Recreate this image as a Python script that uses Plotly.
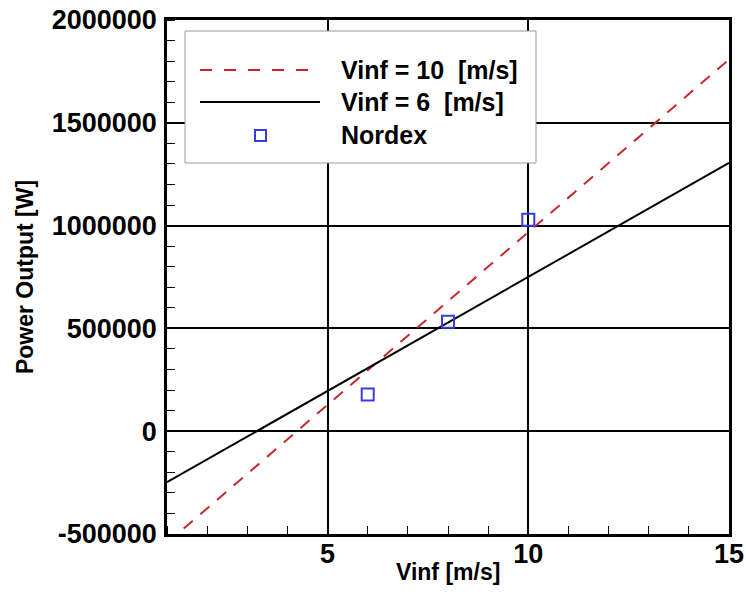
import plotly.graph_objects as go

# ---- data ----
line_x = [1, 15]
vinf10_y = [-543600, 1808000]
vinf6_y = [-248000, 1305000]
nordex_x = [6, 8, 10]
nordex_y = [178000, 532000, 1029000]

x_tick_vals = [5, 10, 15]
x_tick_text = ["5", "10", "15"]
y_tick_vals = [-500000, 0, 500000, 1000000, 1500000, 2000000]
y_tick_text = ["-500000", "0", "500000", "1000000", "1500000", "2000000"]

legend_labels = ["Vinf = 10  [m/s]", "Vinf = 6  [m/s]", "Nordex"]
x_title = "Vinf [m/s]"
y_title = "Power Output [W]"

RED = "#c8282d"
BLUE = "#3a3ae6"
FONT = "Liberation Sans, Arial, Helvetica, sans-serif"

W, H = 746, 594
L, R, T, B = 167, 17, 20, 60
PW, PH = W - L - R, H - T - B


def px(xp):
    return (xp - L) / PW


def py(yp):
    return (H - B - yp) / PH


fig = go.Figure()
fig.add_trace(go.Scatter(x=line_x, y=vinf10_y, mode="lines", name=legend_labels[0],
                         line=dict(color=RED, width=2, dash="12px,10px")))
fig.add_trace(go.Scatter(x=line_x, y=vinf6_y, mode="lines", name=legend_labels[1],
                         line=dict(color="black", width=2)))
fig.add_trace(go.Scatter(x=nordex_x, y=nordex_y, mode="markers", name=legend_labels[2],
                         marker=dict(symbol="square-open", size=12, color=BLUE,
                                     line=dict(width=2, color=BLUE))))

# ---- hand-drawn legend (long line samples as in the reference) ----
shapes = [
    dict(type="rect", xref="paper", yref="paper", x0=px(185), x1=px(536), y0=py(163), y1=py(31),
         fillcolor="white", line=dict(color="#9a9a9a", width=1), layer="above"),
    dict(type="line", xref="paper", yref="paper", x0=px(200), x1=px(310), y0=py(70), y1=py(70),
         line=dict(color=RED, width=2, dash="12px,12px"), layer="above"),
    dict(type="line", xref="paper", yref="paper", x0=px(200), x1=px(320), y0=py(102), y1=py(102),
         line=dict(color="black", width=2), layer="above"),
    dict(type="rect", xref="paper", yref="paper", x0=px(255), x1=px(266), y0=py(141), y1=py(130),
         line=dict(color=BLUE, width=2), fillcolor="rgba(0,0,0,0)", layer="above"),
]
annotations = []
for lab, yp in zip(legend_labels, [70, 102, 135]):
    annotations.append(dict(xref="paper", yref="paper", x=px(339), y=py(yp), text=lab,
                            showarrow=False, xanchor="left", yanchor="middle",
                            font=dict(family=FONT, size=25, color="black", weight="bold")))
# x-axis title
annotations.append(dict(xref="paper", yref="paper", x=0.5, y=py(572), text=x_title,
                        showarrow=False, xanchor="center", yanchor="middle",
                        font=dict(family=FONT, size=23, color="black", weight="bold")))

axis_common = dict(
    showline=True, linecolor="black", linewidth=2.5, mirror=True,
    showgrid=True, gridcolor="black", gridwidth=2,
    zeroline=False, ticks="", automargin=False,
    tickfont=dict(family=FONT, size=27, color="black", weight="bold"),
)

fig.update_layout(
    width=W, height=H, autosize=False,
    margin=dict(l=L, r=R, t=T, b=B, pad=0),
    paper_bgcolor="white", plot_bgcolor="white",
    showlegend=False,
    shapes=shapes, annotations=annotations,
    xaxis=dict(range=[1, 15], tickvals=x_tick_vals, ticktext=x_tick_text, ticklabelstandoff=-6,
               minor=dict(ticks="inside", dtick=1, tick0=0, ticklen=8, tickwidth=1, tickcolor="black", showgrid=False),
               **axis_common),
    yaxis=dict(range=[-500000, 2000000], tickvals=y_tick_vals, ticktext=y_tick_text, ticklabelstandoff=2,
               minor=dict(ticks="inside", dtick=100000, tick0=0, ticklen=8, tickwidth=1, tickcolor="black", showgrid=False),
               title=dict(text=y_title, standoff=12,
                          font=dict(family=FONT, size=23, color="black", weight="bold")),
               **axis_common),
)

fig.write_html("out.html")
